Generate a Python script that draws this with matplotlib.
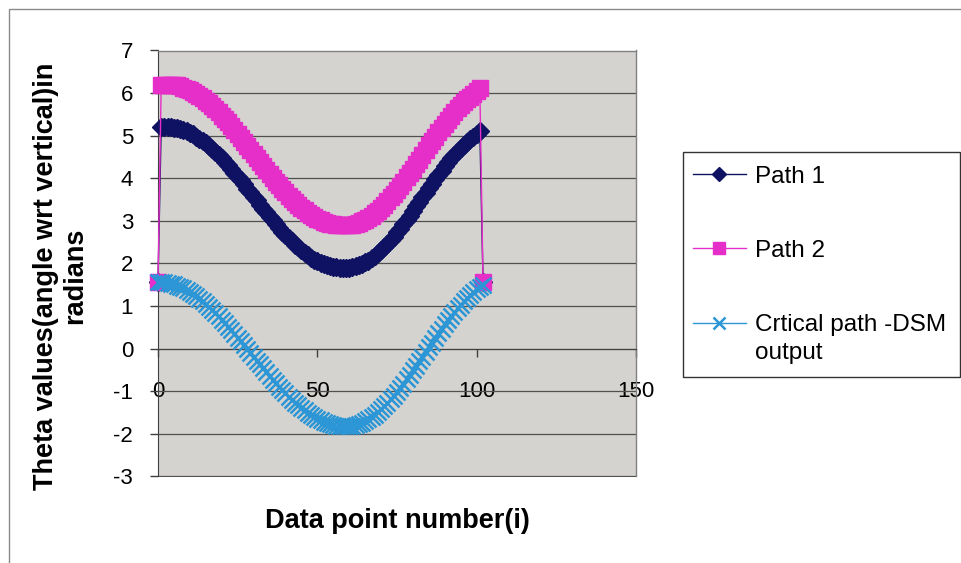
import matplotlib
matplotlib.use("Agg")
import matplotlib.pyplot as plt
from matplotlib.patches import Rectangle

plt.rcParams['font.family'] = ['Liberation Sans', 'DejaVu Sans']
plt.rcParams['axes.unicode_minus'] = False

# ---------------- data ----------------
data_index = list(range(0, 103))

path1 = [1.57,
         5.20, 5.20,
         5.20, 5.20, 5.19, 5.18, 5.16, 5.13, 5.10, 5.07, 5.03, 4.98, 4.93, 4.88,
         4.82, 4.76, 4.69, 4.62, 4.55, 4.47, 4.39, 4.31, 4.22, 4.13, 4.04, 3.95,
         3.86, 3.76, 3.67, 3.57, 3.48, 3.38, 3.29, 3.20, 3.10, 3.01, 2.92, 2.84,
         2.75, 2.67, 2.59, 2.52, 2.44, 2.38, 2.31, 2.25, 2.19, 2.14, 2.09, 2.05,
         2.01, 1.98, 1.96, 1.93, 1.92, 1.91, 1.90,
         1.90,
         1.90, 1.90, 1.91, 1.93, 1.96, 1.99, 2.03, 2.07, 2.12, 2.18, 2.24, 2.31,
         2.38, 2.46, 2.55, 2.63, 2.73, 2.82, 2.92, 3.02, 3.12, 3.23, 3.34, 3.44,
         3.55, 3.66, 3.77, 3.87, 3.98, 4.08, 4.18, 4.28, 4.38, 4.47, 4.55, 4.64,
         4.72, 4.79, 4.86, 4.92, 4.98, 5.04, 5.10,
         1.57]

path2 = [1.57,
         6.20, 6.20,
         6.20, 6.20, 6.19, 6.18, 6.16, 6.13, 6.10, 6.07, 6.03, 5.98, 5.93, 5.88,
         5.82, 5.76, 5.69, 5.62, 5.55, 5.47, 5.39, 5.31, 5.22, 5.13, 5.04, 4.95,
         4.86, 4.76, 4.67, 4.57, 4.48, 4.38, 4.29, 4.20, 4.10, 4.01, 3.92, 3.84,
         3.75, 3.67, 3.59, 3.52, 3.44, 3.38, 3.31, 3.25, 3.19, 3.14, 3.09, 3.05,
         3.01, 2.98, 2.96, 2.93, 2.92, 2.91, 2.90,
         2.90,
         2.90, 2.90, 2.91, 2.93, 2.96, 2.99, 3.03, 3.07, 3.12, 3.18, 3.24, 3.31,
         3.38, 3.46, 3.55, 3.63, 3.73, 3.82, 3.92, 4.02, 4.12, 4.23, 4.34, 4.44,
         4.55, 4.66, 4.77, 4.87, 4.98, 5.08, 5.18, 5.28, 5.38, 5.47, 5.55, 5.64,
         5.72, 5.79, 5.86, 5.92, 5.98, 6.05, 6.12,
         1.57]

critical = [1.57, 1.57, 1.56, 1.55, 1.53, 1.51, 1.48, 1.45, 1.42, 1.38, 1.33,
            1.28, 1.23, 1.17, 1.11, 1.05, 0.98, 0.91, 0.84, 0.76, 0.68, 0.60,
            0.52, 0.43, 0.35, 0.26, 0.17, 0.08, -0.01, -0.10, -0.19, -0.28,
            -0.37, -0.46, -0.55, -0.64, -0.73, -0.81, -0.89, -0.97, -1.05,
            -1.13, -1.20, -1.27, -1.33, -1.39, -1.45, -1.51, -1.56, -1.60,
            -1.65, -1.68, -1.72, -1.75, -1.77, -1.79, -1.81, -1.82, -1.82,
            -1.82, -1.82, -1.81, -1.79, -1.77, -1.74, -1.70, -1.65, -1.60,
            -1.55, -1.49, -1.42, -1.35, -1.27, -1.19, -1.10, -1.01, -0.92,
            -0.82, -0.72, -0.62, -0.51, -0.40, -0.30, -0.19, -0.08, 0.03,
            0.14, 0.25, 0.36, 0.46, 0.57, 0.67, 0.76, 0.86, 0.95, 1.03, 1.12,
            1.19, 1.27, 1.33, 1.40, 1.45, 1.50]

series_labels = ["Path 1", "Path 2", "Crtical path -DSM"]
label_continuation = "output"
x_ticks = [0, 50, 100, 150]
y_ticks = [-3, -2, -1, 0, 1, 2, 3, 4, 5, 6, 7]
x_title = "Data point number(i)"
y_title = "Theta values(angle wrt vertical)in\nradians"

# ---------------- figure ----------------
W, H = 962, 563
fig = plt.figure(figsize=(W / 100, H / 100), dpi=100)
fig.patch.set_facecolor('white')

# outer chart-area border
fig.patches.append(Rectangle((9 / W, -0.1), 1.2, 1.1 - 9 / H, transform=fig.transFigure,
                             fill=False, edgecolor='#8a8a8a', lw=1.0))

ax = fig.add_axes([158 / W, 1 - 476.5 / H, (636 - 158) / W, (476.5 - 50.5) / H])
ax.set_facecolor('#d5d3d0')

navy = '#0f1262'
pink = '#e62ec8'
cyan = '#2c96d6'

ax.plot(data_index, path1, color=navy, lw=1.0, marker='D', ms=9.0,
        mec=navy, mfc=navy, label=series_labels[0], clip_on=False, zorder=3)
ax.plot(data_index, path2, color=pink, lw=1.0, marker='s', ms=11.0,
        mec=pink, mfc=pink, label=series_labels[1], clip_on=False, zorder=3)
ax.plot(data_index, critical, color=cyan, lw=1.0, marker='x', ms=11.0, mew=1.8,
        mec=cyan, label=series_labels[2], clip_on=False, zorder=4)

ax.set_xlim(0, 150)
ax.set_ylim(-3, 7)
ax.set_xticks(x_ticks)
ax.set_yticks(y_ticks)
ax.yaxis.grid(True, color='#505050', lw=0.9)
ax.set_axisbelow(True)

ax.spines['bottom'].set_position(('data', 0))
for s in ('top', 'right'):
    ax.spines[s].set_color('#808080')
    ax.spines[s].set_linewidth(1.0)
ax.spines['left'].set_color('#404040')
ax.spines['bottom'].set_color('#404040')

ax.tick_params(axis='both', direction='out', length=6, width=1.0, color='#404040',
               labelsize=16, labelcolor='black')
ax.tick_params(axis='x', pad=17)
ax.tick_params(axis='y', pad=12)

fig.text(397 / W, 1 - 521 / H, x_title, ha='center', va='center',
         fontsize=19.5, fontweight='bold')
fig.text(61 / W, 1 - 276 / H, y_title, ha='center', va='center', rotation=90,
         multialignment='center', fontsize=19.5, fontweight='bold', linespacing=1.15)

# legend frame
fig.patches.append(Rectangle((683 / W, 1 - 377 / H), (960 - 683) / W, (377 - 152) / H,
                             transform=fig.transFigure, facecolor='white',
                             edgecolor='#333333', lw=1.0, zorder=1))

handles, labels = ax.get_legend_handles_labels()
leg = fig.legend(handles, labels, loc='upper left',
                 bbox_to_anchor=(683 / W, 1 - 156 / H),
                 bbox_transform=fig.transFigure, frameon=False,
                 fontsize=17.5, handlelength=2.2,
                 handletextpad=0.35, labelspacing=2.15, borderpad=0.4,
                 borderaxespad=0.0, markerscale=0.8)
fig.text(755.5 / W, 1 - 353 / H, label_continuation, ha='left', va='center',
         fontsize=17.5)

fig.savefig('out.png', dpi=100)
